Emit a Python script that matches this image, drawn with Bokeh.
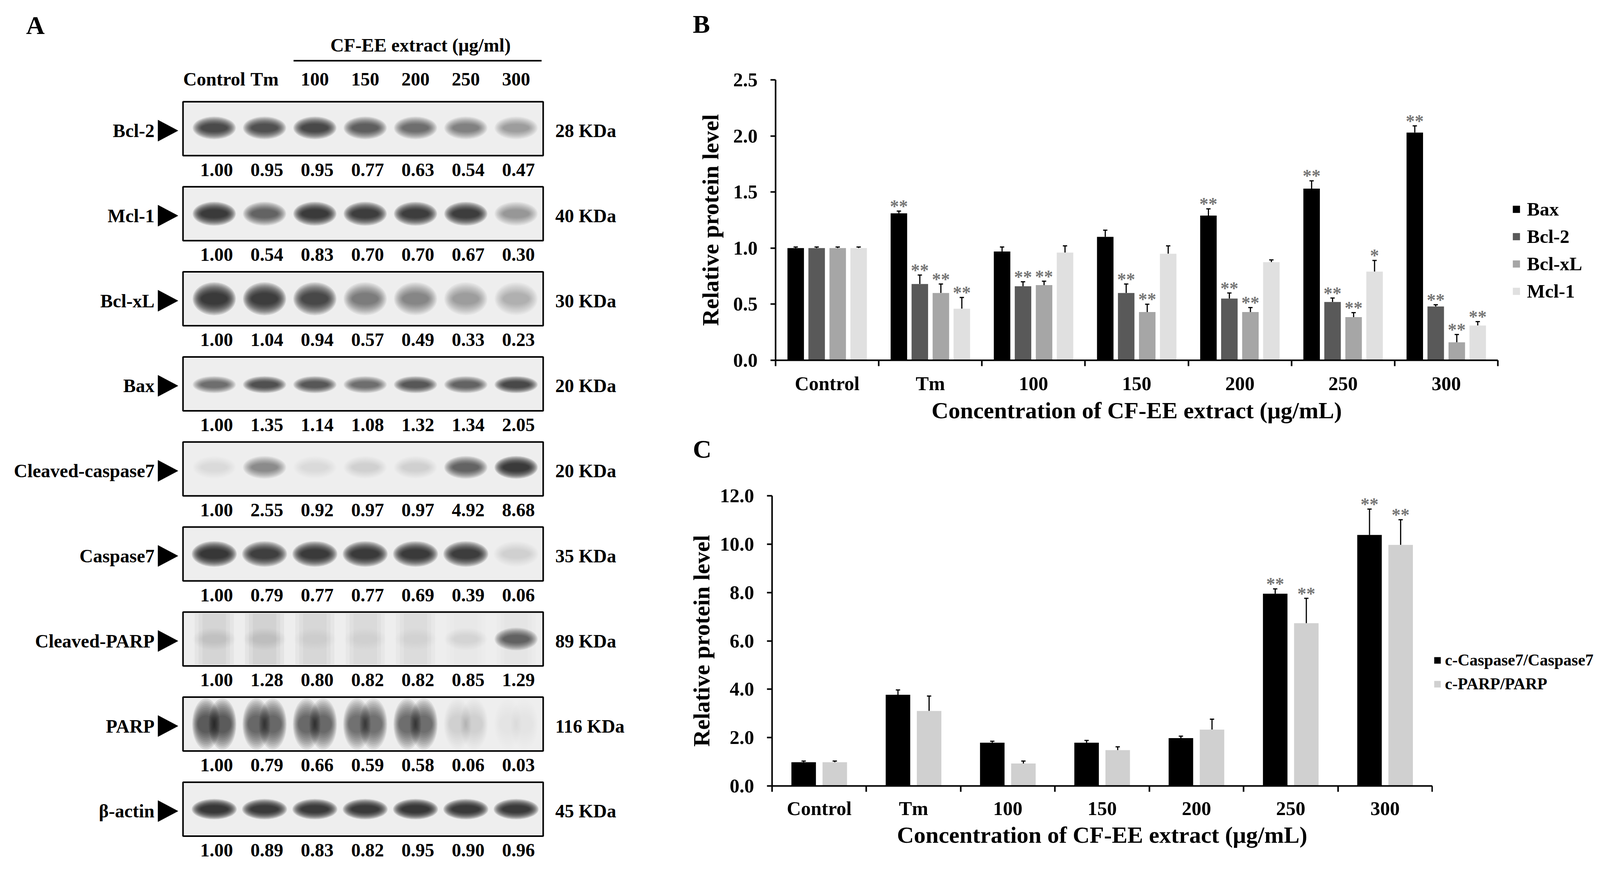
from bokeh.plotting import figure
from bokeh.models import (ColumnDataSource, Range1d, FixedTicker, SingleIntervalTicker,
                          NumeralTickFormatter, Whisker, TeeHead, Legend, LegendItem)
from bokeh.layouts import row, column
from bokeh.core.properties import value
from bokeh.embed import file_html
from bokeh.resources import INLINE

FONT = "Liberation Serif"

# ---------------- data: panel A (western blots) ----------------
lanes = ["Control", "Tm", "100", "150", "200", "250", "300"]
blot_names = ["Bcl-2", "Mcl-1", "Bcl-xL", "Bax", "Cleaved-caspase7", "Caspase7",
              "Cleaved-PARP", "PARP", "β-actin"]
blot_kda = ["28 KDa", "40 KDa", "30 KDa", "20 KDa", "20 KDa", "35 KDa", "89 KDa",
            "116 KDa", "45 KDa"]
q_bcl2 = [1.00, 0.95, 0.95, 0.77, 0.63, 0.54, 0.47]
q_mcl1 = [1.00, 0.54, 0.83, 0.70, 0.70, 0.67, 0.30]
q_bclxl = [1.00, 1.04, 0.94, 0.57, 0.49, 0.33, 0.23]
q_bax = [1.00, 1.35, 1.14, 1.08, 1.32, 1.34, 2.05]
q_ccasp7 = [1.00, 2.55, 0.92, 0.97, 0.97, 4.92, 8.68]
q_casp7 = [1.00, 0.79, 0.77, 0.77, 0.69, 0.39, 0.06]
q_cparp = [1.00, 1.28, 0.80, 0.82, 0.82, 0.85, 1.29]
q_parp = [1.00, 0.79, 0.66, 0.59, 0.58, 0.06, 0.03]
q_actin = [1.00, 0.89, 0.83, 0.82, 0.95, 0.90, 0.96]
# band darkness as seen on the blot images (0 = none, 1 = black)
d_bcl2 = [0.75, 0.72, 0.78, 0.62, 0.48, 0.38, 0.28]
d_mcl1 = [0.95, 0.60, 0.90, 0.88, 0.88, 0.88, 0.30]
d_bclxl = [0.95, 0.92, 0.78, 0.42, 0.36, 0.26, 0.18]
d_bax = [0.50, 0.72, 0.65, 0.50, 0.65, 0.60, 0.78]
d_ccasp7 = [0.05, 0.35, 0.06, 0.08, 0.08, 0.60, 0.95]
d_casp7 = [1.00, 0.85, 0.95, 0.95, 0.90, 0.88, 0.08]
d_cparp = [0.04, 0.05, 0.02, 0.02, 0.02, 0.05, 0.55]
d_parp = [0.82, 0.74, 0.68, 0.60, 0.64, 0.10, 0.04]
d_actin = [1.00, 0.95, 0.95, 0.95, 1.00, 0.97, 0.95]
# faint full-height lane smears (Cleaved-PARP blot)
s_cparp = [0.10, 0.12, 0.09, 0.08, 0.07, 0.02, 0.03]

# ---------------- data: panel B ----------------
categories = ["Control", "Tm", "100", "150", "200", "250", "300"]
bax = [1.00, 1.31, 0.97, 1.10, 1.29, 1.53, 2.03]
bax_err = [0.01, 0.02, 0.04, 0.06, 0.06, 0.07, 0.06]
bax_sig = ["", "**", "", "", "**", "**", "**"]
bcl2 = [1.00, 0.68, 0.66, 0.60, 0.55, 0.52, 0.48]
bcl2_err = [0.01, 0.08, 0.04, 0.08, 0.05, 0.035, 0.015]
bcl2_sig = ["", "**", "**", "**", "**", "**", "**"]
bclxl = [1.00, 0.60, 0.67, 0.43, 0.43, 0.385, 0.16]
bclxl_err = [0.01, 0.08, 0.035, 0.07, 0.04, 0.04, 0.07]
bclxl_sig = ["", "**", "**", "**", "**", "**", "**"]
mcl1 = [1.00, 0.46, 0.96, 0.95, 0.875, 0.79, 0.31]
mcl1_err = [0.01, 0.10, 0.06, 0.07, 0.02, 0.10, 0.035]
mcl1_sig = ["", "**", "", "", "", "*", "**"]

# ---------------- data: panel C ----------------
ccasp = [0.98, 3.77, 1.79, 1.79, 1.98, 7.95, 10.38]
ccasp_err = [0.05, 0.20, 0.06, 0.09, 0.08, 0.20, 1.07]
ccasp_sig = ["", "", "", "", "", "**", "**"]
cparp = [0.98, 3.10, 0.93, 1.48, 2.33, 6.73, 9.97]
cparp_err = [0.05, 0.62, 0.10, 0.14, 0.43, 1.03, 1.04]
cparp_sig = ["", "", "", "", "", "**", "**"]


def blank_fig(w, h, xr, yr):
    f = figure(width=w, height=h, x_range=xr, y_range=yr, x_axis_location=None,
               y_axis_location=None, toolbar_location=None, output_backend="svg",
               min_border=0, outline_line_color=None, frame_align=False)
    f.xgrid.visible = False
    f.ygrid.visible = False
    return f


# ================= Panel A =================
SPLIT = 1760
pa = blank_fig(SPLIT - 8, 2245, Range1d(8, SPLIT), Range1d(2253, 8))

BOX_L, BOX_R = 476, 1398
ROW_TOP0, ROW_PITCH, BOX_H = 268, 217.8, 138
LANE0, LANE_PITCH = 556, 128.8
band_w = [96, 96, 96, 96, 96, 100, 96, 62, 100]
band_h = [40, 42, 58, 30, 40, 45, 40, 90, 36]
band_dy = [-2, 0, 0, 2, -4, 0, 0, 0, 0]
band_lobes = [[0], [0], [0], [0], [0], [0], [0], [-21, 21], [0]]
quants = [q_bcl2, q_mcl1, q_bclxl, q_bax, q_ccasp7, q_casp7, q_cparp, q_parp, q_actin]
darks = [d_bcl2, d_mcl1, d_bclxl, d_bax, d_ccasp7, d_casp7, d_cparp, d_parp, d_actin]
NL = 10
layers = [(1.15 - 0.45 * k / (NL - 1), 1.45 - 0.95 * k / (NL - 1), 0.16) for k in range(NL)]

lane_x = [LANE0 + LANE_PITCH * i for i in range(len(lanes))]
box = dict(x=[], y=[], w=[], h=[])
band = dict(x=[], y=[], w=[], h=[], a=[])
smear = dict(x=[], y=[], w=[], h=[], a=[])
lab = dict(x=[], y=[], t=[])
kda = dict(x=[], y=[], t=[])
num = dict(x=[], y=[], t=[])
tri = dict(xs=[], ys=[])
for r, name in enumerate(blot_names):
    top = ROW_TOP0 + r * ROW_PITCH
    cy = top + BOX_H / 2
    box["x"].append((BOX_L + BOX_R) / 2); box["y"].append(cy)
    box["w"].append(BOX_R - BOX_L); box["h"].append(BOX_H)
    nlobe = len(band_lobes[r])
    for i, xl in enumerate(lane_x):
        d = darks[r][i]
        for lo in band_lobes[r]:
            for wf, hf, af in layers:
                band["x"].append(xl + lo); band["y"].append(cy + band_dy[r])
                band["w"].append(band_w[r] * wf); band["h"].append(band_h[r] * hf)
                band["a"].append(min(1.0, d * af / (1 + 0.3 * (nlobe - 1))))
        if name == "Cleaved-PARP":
            for wf in (1.0, 0.8, 0.6):
                smear["x"].append(xl); smear["y"].append(cy)
                smear["w"].append(100 * wf); smear["h"].append(BOX_H - 8)
                smear["a"].append(s_cparp[i] * 0.4)
        num["x"].append(xl + 6); num["y"].append(top + BOX_H + 36)
        num["t"].append(f"{quants[r][i]:.2f}")
    lab["x"].append(403); lab["y"].append(cy + 5); lab["t"].append(name)
    kda["x"].append(1429); kda["y"].append(cy + 5); kda["t"].append(blot_kda[r])
    tri["xs"].append([412, 412, 463]); tri["ys"].append([cy + 5 - 27, cy + 5 + 27, cy + 5])

pa.rect(x="x", y="y", width="w", height="h", source=ColumnDataSource(box),
        fill_color="#eeeeee", line_color=None)
pa.rect(x="x", y="y", width="w", height="h", source=ColumnDataSource(smear),
        fill_color="#222222", fill_alpha="a", line_color=None)
pa.ellipse(x="x", y="y", width="w", height="h", source=ColumnDataSource(band),
           fill_color="#111111", fill_alpha="a", line_color=None)
pa.rect(x="x", y="y", width="w", height="h", source=ColumnDataSource(box),
        fill_color=None, line_color="black", line_width=4)
pa.patches(xs="xs", ys="ys", source=ColumnDataSource(tri), fill_color="black", line_color="black")

txt = dict(text_font=value(FONT), text_font_style="bold", text_font_size="48px",
           text_baseline="middle", text_color="black")
pa.text(x="x", y="y", text="t", source=ColumnDataSource(lab), text_align="right", **txt)
pa.text(x="x", y="y", text="t", source=ColumnDataSource(kda), text_align="left", **txt)
pa.text(x="x", y="y", text="t", source=ColumnDataSource(num), text_align="center", **txt)
pa.text(x="x", y="y", text="t", text_align="center",
        source=ColumnDataSource(dict(x=lane_x, y=[210] * len(lanes), t=lanes)), **txt)
pa.text(x=[1084], y=[123], text=["CF-EE extract (μg/ml)"], text_align="center", **txt)
pa.segment(x0=[759], y0=[163], x1=[1394], y1=[163], line_color="black", line_width=4)
pa.text(x=[98], y=[72], text=["A"], text_align="center", text_baseline="middle",
        text_font=value(FONT), text_font_style="bold", text_font_size="66px")


def style_axes(p, y_int, ystand, ytitle_stand, xstand, xtitle_stand):
    p.xgrid.visible = False
    p.ygrid.visible = False
    centers = [i + 0.5 for i in range(len(categories))]
    xa = p.xaxis[0]
    xa.ticker = FixedTicker(ticks=centers, minor_ticks=list(range(len(categories) + 1)))
    xa.major_label_overrides = {c: n for c, n in zip(centers, categories)}
    xa.major_tick_out = 0
    xa.major_tick_in = 0
    xa.minor_tick_out = 15
    xa.minor_tick_in = 0
    xa.minor_tick_line_width = 4
    xa.minor_tick_line_color = "black"
    xa.major_label_standoff = xstand
    xa.axis_label = "Concentration of CF-EE extract (μg/mL)"
    xa.axis_label_standoff = xtitle_stand
    ya = p.yaxis[0]
    ya.ticker = SingleIntervalTicker(interval=y_int, num_minor_ticks=0)
    ya.formatter = NumeralTickFormatter(format="0.0")
    ya.major_tick_out = 13
    ya.major_tick_in = 0
    ya.major_tick_line_width = 4
    ya.minor_tick_line_color = None
    ya.major_label_standoff = ystand
    ya.axis_label = "Relative protein level"
    ya.axis_label_standoff = ytitle_stand
    for ax in (xa, ya):
        ax.axis_line_width = 4
        ax.axis_line_color = "black"
        ax.major_label_text_font = FONT
        ax.major_label_text_font_style = "bold"
        ax.major_label_text_font_size = "50px"
        ax.major_label_text_color = "black"
        ax.axis_label_text_font = FONT
        ax.axis_label_text_font_style = "bold"
        ax.axis_label_text_font_size = "60px"
        ax.axis_label_text_color = "black"


def add_series(p, vals, errs, sigs, color, off, width):
    xs = [i + 0.5 + off for i in range(len(categories))]
    src = ColumnDataSource(dict(x=xs, top=vals, upper=[v + e for v, e in zip(vals, errs)], sig=sigs))
    r = p.vbar(x="x", top="top", width=width, source=src, fill_color=color, line_color=None)
    p.add_layout(Whisker(source=src, base="x", upper="upper", lower="top",
                         upper_head=TeeHead(size=11, line_width=3, line_color="black"),
                         lower_head=None, line_width=3, line_color="black"))
    p.text(x="x", y="upper", text="sig", source=src, text_align="center",
           text_baseline="alphabetic", y_offset=-12, text_color="#767676",
           text_font=value(FONT), text_font_style="bold", text_font_size="46px")
    return r


def legend_fig(w, h, series, loc, gsize, standoff, spacing, fsize):
    f = blank_fig(w, h, Range1d(0, 1), Range1d(0, 1))
    items = []
    for s in series:
        name, color = s[0], s[4]
        # one swatch-only bar kept outside the visible range, used as the legend key
        rr = f.vbar(x=[-5], top=[0], width=0.1, fill_color=color, line_color=None)
        items.append(LegendItem(label=name, renderers=[rr]))
    f.add_layout(Legend(items=items, location=loc, glyph_width=gsize, glyph_height=gsize,
                        label_standoff=standoff, spacing=spacing, padding=0, margin=0,
                        border_line_color=None, background_fill_alpha=0,
                        label_text_font=FONT, label_text_font_style="bold",
                        label_text_color="black", label_text_font_size=fsize))
    return f


RW = 4145 - SPLIT
# ---- letter strip B ----
stripB = blank_fig(RW, 112, Range1d(SPLIT, 4145), Range1d(120, 8))
stripB.text(x=[1803], y=[69], text=["B"], text_align="center", text_baseline="middle",
            text_font=value(FONT), text_font_style="bold", text_font_size="66px")

# ================= Panel B =================
pb = figure(width=3860 - SPLIT, height=985, x_range=Range1d(0, 7), y_range=Range1d(0, 2.5),
            toolbar_location=None, output_backend="svg", outline_line_color=None,
            frame_align=False, min_border_left=1993 - SPLIT, min_border_right=18,
            min_border_top=92, min_border_bottom=175)
style_axes(pb, 0.5, 33, 22, 16, 5)
series_b = [("Bax", bax, bax_err, bax_sig, "#000000"),
            ("Bcl-2", bcl2, bcl2_err, bcl2_sig, "#595959"),
            ("Bcl-xL", bclxl, bclxl_err, bclxl_sig, "#a6a6a6"),
            ("Mcl-1", mcl1, mcl1_err, mcl1_sig, "#e0e0e0")]
offs_b = [-0.305, -0.102, 0.102, 0.305]
for (name, v, e, s, c), off in zip(series_b, offs_b):
    add_series(pb, v, e, s, c, off, 0.16)
legB = legend_fig(4145 - 3860, 985, series_b, (18, 323), 23, 16, 13, "49px")

# ---- letter strip C ----
stripC = blank_fig(RW, 95, Range1d(SPLIT, 4145), Range1d(1200, 1105))
stripC.text(x=[1805], y=[1157], text=["C"], text_align="center", text_baseline="middle",
            text_font=value(FONT), text_font_style="bold", text_font_size="66px")

# ================= Panel C =================
CSPLIT = 3676
pc = figure(width=CSPLIT - SPLIT, height=1053, x_range=Range1d(0, 7), y_range=Range1d(0, 12),
            toolbar_location=None, output_backend="svg", outline_line_color=None,
            frame_align=False, min_border_left=1984 - SPLIT, min_border_right=2,
            min_border_top=77, min_border_bottom=233)
style_axes(pc, 2, 33, 11, 14, 4)
series_c = [("c-Caspase7/Caspase7", ccasp, ccasp_err, ccasp_sig, "#000000"),
            ("c-PARP/PARP", cparp, cparp_err, cparp_sig, "#d0d0d0")]
offs_c = [-0.165, 0.165]
for (name, v, e, s, c), off in zip(series_c, offs_c):
    add_series(pc, v, e, s, c, off, 0.26)
legC = legend_fig(4145 - CSPLIT, 1053, series_c, (1, 470), 21, 9, 13, "42px")

right = column(stripB, row(pb, legB), stripC, row(pc, legC))
layout = row(pa, right)
open("out.html", "w").write(file_html(layout, INLINE, title="CF-EE extract western blot"))
